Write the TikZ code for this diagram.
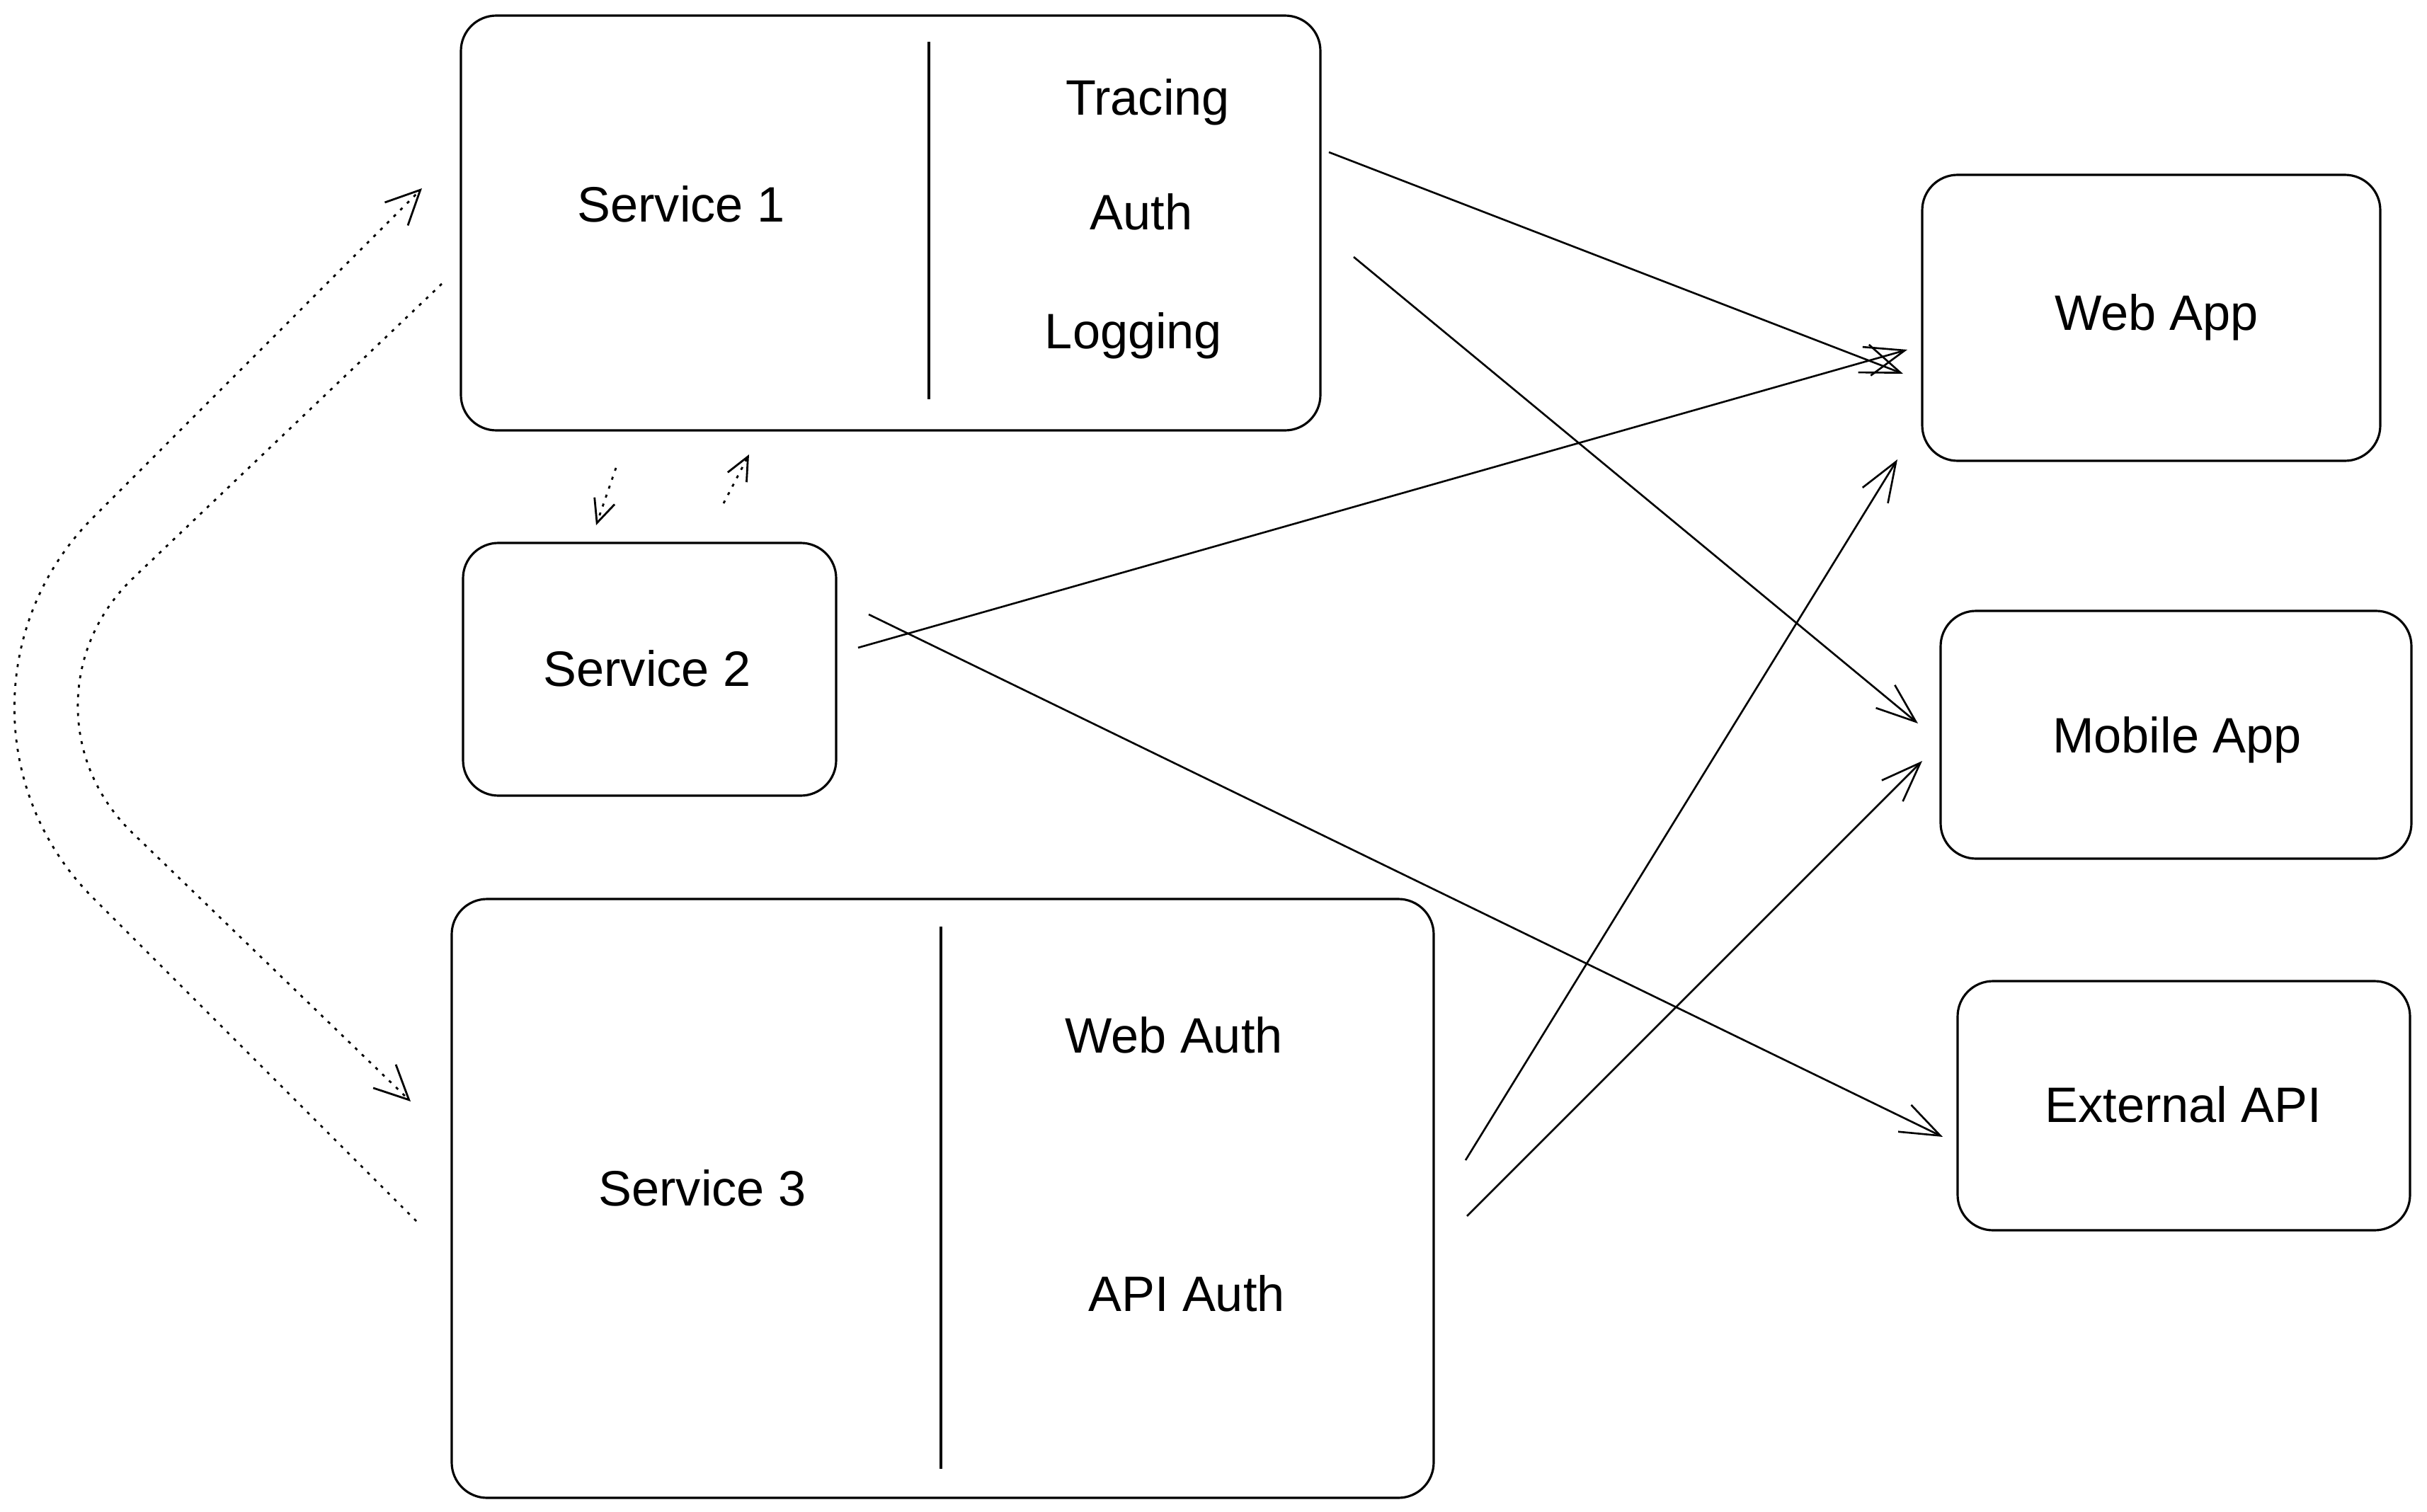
\documentclass[tikz,border=0pt]{standalone}
\usepackage{fontspec}
\setmainfont{Liberation Sans}
\usetikzlibrary{arrows.meta}

\begin{document}
\begin{tikzpicture}[
    box/.style={draw,rounded corners=0.5cm,line width=0.9pt,inner sep=0pt},
    lbl/.style={font=\fontsize{20pt}{24pt}\selectfont,anchor=base,inner sep=0pt},
    arr/.style={-{Straight Barb[length=5.6mm,width=4.2mm]},line width=0.75pt},
    dotarr/.style={-{Straight Barb[length=4.8mm,width=4.6mm]},line width=0.8pt,dash pattern=on 1.2pt off 2.6pt},
    smallarr/.style={dotarr,-{Straight Barb[length=3.3mm,width=3mm]}}]
  \useasboundingbox (0,0) rectangle (34.28,-21.36);

  % services
  \node[box,minimum width=12.14cm,minimum height=5.86cm] (s1) at (12.58,-3.15) {};
  \node[box,minimum width=5.27cm,minimum height=3.57cm] (s2) at (9.175,-9.455) {};
  \node[box,minimum width=13.87cm,minimum height=8.46cm] (s3) at (13.315,-16.93) {};
  \draw[line width=0.9pt] (13.12,-0.59) -- (13.12,-5.64);
  \draw[line width=0.9pt] (13.29,-13.09) -- (13.29,-20.75);

  % clients
  \node[box,minimum width=6.47cm,minimum height=4.04cm] (web) at (30.385,-4.49) {};
  \node[box,minimum width=6.65cm,minimum height=3.50cm] (mobile) at (30.735,-10.38) {};
  \node[box,minimum width=6.39cm,minimum height=3.52cm] (extapi) at (30.845,-15.62) {};

  % texts
  \node[lbl] (s1name) at (9.62,-3.13) {Service 1};
  \node[lbl] (tracing) at (16.21,-1.62) {Tracing};
  \node[lbl] (auth) at (16.12,-3.24) {Auth};
  \node[lbl] (logging) at (16.01,-4.92) {Logging};
  \node[lbl] (s2name) at (9.14,-9.69) {Service 2};
  \node[lbl] (s3name) at (9.92,-17.03) {Service 3};
  \node[lbl] (webauth) at (16.58,-14.87) {Web Auth};
  \node[lbl] (apiauth) at (16.76,-18.52) {API Auth};
  \node[lbl] (webname) at (30.46,-4.66) {Web App};
  \node[lbl] (mobilename) at (30.75,-10.63) {Mobile App};
  \node[lbl] (extname) at (30.84,-15.85) {External API};

  % arrow ends
  \coordinate (s1out1) at (18.77,-2.15);
  \coordinate (s1out2) at (19.12,-3.63);
  \coordinate (s2out1) at (12.12,-9.15);
  \coordinate (s2out2) at (12.27,-8.68);
  \coordinate (s3out1) at (20.70,-16.39);
  \coordinate (s3out2) at (20.72,-17.18);
  \coordinate (webin1) at (26.88,-5.28);
  \coordinate (webin2) at (26.94,-4.94);
  \coordinate (webin3) at (26.80,-6.49);
  \coordinate (mobilein1) at (27.09,-10.22);
  \coordinate (mobilein2) at (27.15,-10.75);
  \coordinate (extin) at (27.44,-16.06);
  \draw[arr] (s1out1) -- (webin1);
  \draw[arr] (s1out2) -- (mobilein1);
  \draw[arr] (s2out1) -- (webin2);
  \draw[arr] (s2out2) -- (extin);
  \draw[arr] (s3out1) -- (webin3);
  \draw[arr] (s3out2) -- (mobilein2);

  % dotted links between services
  \coordinate (s1left) at (6.24,-4.01);
  \coordinate (s1tip) at (5.96,-2.66);
  \coordinate (s3left) at (5.88,-17.25);
  \coordinate (s3tip) at (5.80,-15.56);
  \draw[dotarr,rounded corners=3.8cm] (s3left) -- (-1.37,-10.00) -- (s1tip);
  \draw[dotarr,rounded corners=2.6cm] (s1left) -- (0,-9.96) -- (s3tip);
  \coordinate (s1low) at (8.70,-6.61);
  \coordinate (s2top1) at (8.42,-7.42);
  \coordinate (s2top2) at (10.22,-7.11);
  \coordinate (s1low2) at (10.58,-6.42);
  \draw[smallarr] (s1low) -- (s2top1);
  \draw[smallarr] (s2top2) -- (s1low2);
\end{tikzpicture}
\end{document}
